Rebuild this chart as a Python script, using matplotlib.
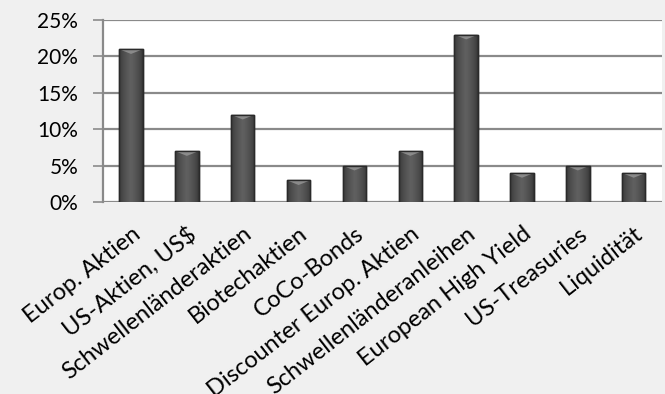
import numpy as np
import matplotlib
matplotlib.use('Agg')
import matplotlib.pyplot as plt
from matplotlib.patches import Polygon
from matplotlib.ticker import FuncFormatter

# Data
categories = ['Europ. Aktien', 'US-Aktien, US$', 'Schwellenländeraktien',
              'Biotechaktien', 'CoCo-Bonds', 'Discounter Europ. Aktien',
              'Schwellenländeranleihen', 'European High Yield',
              'US-Treasuries', 'Liquidität']
values = [21, 7, 12, 3, 5, 7, 23, 4, 5, 4]

plt.rcParams['font.family'] = ['Lato', 'DejaVu Sans']
bg = '#f0f0f0'
grid_c = '#8a8a8a'
bar_w = 0.42

fig = plt.figure(figsize=(6.65, 3.94), dpi=100, facecolor=bg)
ax = fig.add_axes([0.155, 0.487, 0.84, 0.462])
ax.set_facecolor('white')

x = np.arange(len(categories))

# horizontal gradient for the cylinder look
grad = np.concatenate([np.linspace(0, 1, 50), np.linspace(1, 0, 50)])
grad = np.sqrt(grad)[None, :]
cmap = matplotlib.colors.LinearSegmentedColormap.from_list('bar', ['#2e2e2e', '#606060'])

bars = ax.bar(x, values, width=bar_w, color='#4a4a4a', edgecolor='#2a2a2a',
              linewidth=1.0, zorder=3)
for b in bars:
    x0, w, h = b.get_x(), b.get_width(), b.get_height()
    im = ax.imshow(grad, cmap=cmap, aspect='auto', extent=[x0, x0 + w, 0, h],
                   zorder=3.5, interpolation='bicubic')
    im.set_clip_path(b)
    # bevel on top
    bev = 0.65
    ax.add_patch(Polygon([[x0, h], [x0 + w, h], [x0 + w / 2, h - bev]],
                         closed=True, facecolor='#8a8a8a', edgecolor='none', zorder=4))
    ax.plot([x0, x0, x0 + w, x0 + w], [0, h, h, 0], color='#2a2a2a', lw=1.0, zorder=5)
ax.set_xlim(-0.5, len(categories) - 0.5)
ax.set_ylim(0, 25)

ax.set_yticks(range(0, 26, 5))
ax.yaxis.set_major_formatter(FuncFormatter(lambda v, p: f'{int(v)}%'))
ax.yaxis.grid(True, color=grid_c, linewidth=1.6, zorder=0)
ax.set_axisbelow(True)
ax.tick_params(axis='y', length=7, width=1.2, color=grid_c, labelsize=15,
               pad=11, labelcolor='black')

ax.set_xticks(x)
ax.set_xticklabels(categories, rotation=38, ha='right', va='top',
                   rotation_mode='anchor', fontsize=17)
ax.tick_params(axis='x', length=0, pad=15)

for s in ['top', 'right', 'bottom']:
    ax.spines[s].set_visible(False)
ax.spines['left'].set_color(grid_c)
ax.spines['left'].set_linewidth(1.6)

fig.savefig('out.png', dpi=100, facecolor=bg)
